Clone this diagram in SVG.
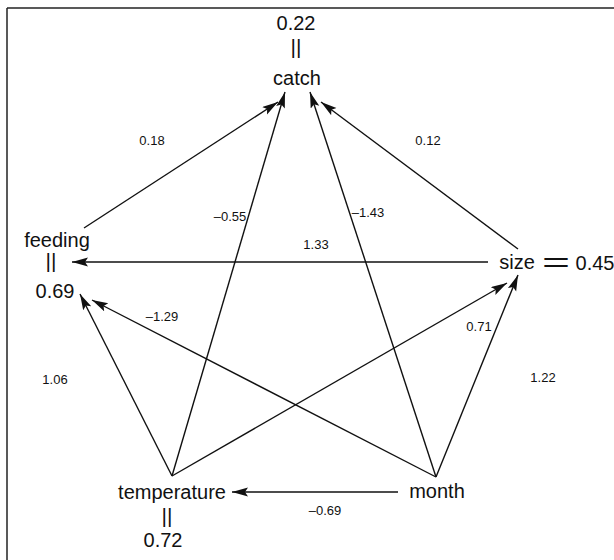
<svg xmlns="http://www.w3.org/2000/svg" width="614" height="560" viewBox="0 0 614 560">
<style>
.n{font-family:"Liberation Sans",Arial,sans-serif;font-size:20px;fill:#111;text-anchor:middle}
.e{font-family:"Liberation Sans",Arial,sans-serif;font-size:13px;fill:#111;text-anchor:middle}
.c line{stroke:#111;stroke-width:1.4;marker-end:url(#ah)}
</style>
<defs>
<marker id="ah" markerUnits="userSpaceOnUse" markerWidth="17" markerHeight="10" refX="16" refY="4.5" orient="auto">
<path d="M0,0 L16,4.5 L0,9 L3,4.5 z" fill="#111"/>
</marker>
</defs>
<rect width="614" height="560" fill="#fff"/>
<g id="frame" stroke="#222" stroke-width="1.5" fill="none">
<line x1="7" y1="8" x2="614" y2="8"/>
<line x1="7" y1="8" x2="7" y2="560"/>
</g>
<g id="connectors" class="c">
<line x1="84" y1="228" x2="278" y2="102"/>
<line x1="172" y1="476" x2="285" y2="92"/>
<line x1="436" y1="477" x2="310" y2="92"/>
<line x1="518" y1="249" x2="321" y2="102"/>
<line x1="488" y1="262" x2="72" y2="262"/>
<line x1="436" y1="477" x2="92" y2="300"/>
<line x1="172" y1="476" x2="80" y2="294"/>
<line x1="172" y1="476" x2="507" y2="283"/>
<line x1="436" y1="477" x2="518" y2="275"/>
<line x1="398" y1="492" x2="232" y2="492"/>
</g>
<g id="edge-labels">
<text class="e" x="152" y="145">0.18</text>
<text class="e" x="230" y="221">–0.55</text>
<text class="e" x="368" y="217">–1.43</text>
<text class="e" x="428" y="145">0.12</text>
<text class="e" x="316" y="249">1.33</text>
<text class="e" x="479" y="331">0.71</text>
<text class="e" x="162" y="321">–1.29</text>
<text class="e" x="55" y="384">1.06</text>
<text class="e" x="543" y="382">1.22</text>
<text class="e" x="325" y="515">–0.69</text>
</g>
<g id="catch">
<text class="n" x="296" y="30">0.22</text>
<text class="n" x="296" y="54" style="font-size:21px">||</text>
<text class="n" x="297" y="85">catch</text>
</g>
<g id="feeding">
<text class="n" x="57" y="247">feeding</text>
<text class="n" x="51" y="268" style="font-size:21px">||</text>
<text class="n" x="55" y="298">0.69</text>
</g>
<g id="size">
<text class="n" x="517" y="269">size</text>
<text class="n" x="556" y="272" style="font-size:28px" textLength="28" lengthAdjust="spacingAndGlyphs">=</text>
<text class="n" x="595" y="270">0.45</text>
</g>
<g id="temperature">
<text class="n" x="172" y="499">temperature</text>
<text class="n" x="167" y="523" style="font-size:21px">||</text>
<text class="n" x="163" y="547">0.72</text>
</g>
<g id="month">
<text class="n" x="437" y="498">month</text>
</g>
</svg>
